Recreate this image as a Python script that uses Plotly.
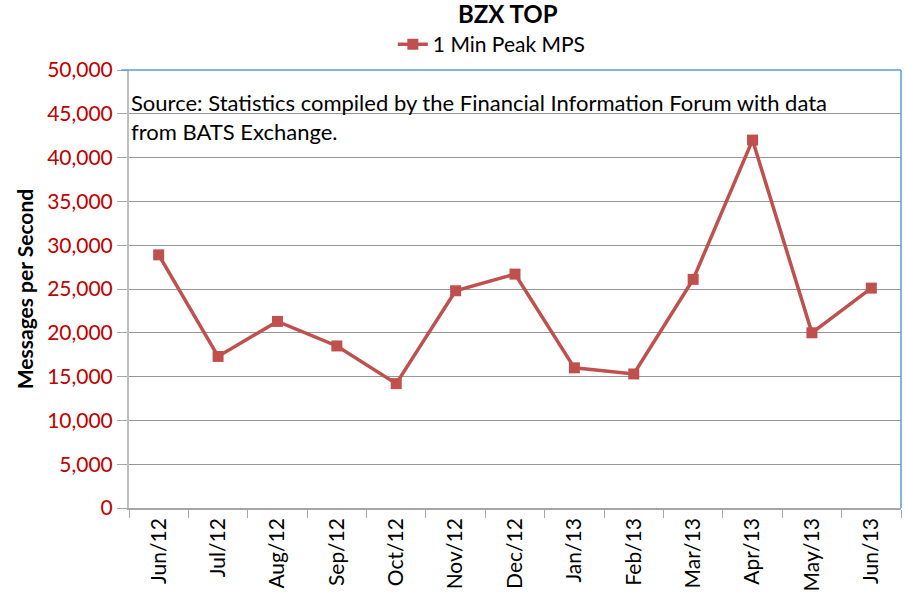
import plotly.graph_objects as go

months = ["Jun/12", "Jul/12", "Aug/12", "Sep/12", "Oct/12", "Nov/12", "Dec/12",
          "Jan/13", "Feb/13", "Mar/13", "Apr/13", "May/13", "Jun/13"]
peak_mps = [28900, 17300, 21300, 18500, 14200, 24800, 26700,
            16000, 15300, 26100, 42000, 20000, 25100]
y_ticks = [0, 5000, 10000, 15000, 20000, 25000, 30000, 35000, 40000, 45000, 50000]

FONT = "Lato"
RED = "#C0504D"

fig = go.Figure()
fig.add_trace(go.Scatter(
    x=months, y=peak_mps, mode="lines+markers", name="1 Min Peak MPS",
    line=dict(color=RED, width=3.5),
    marker=dict(symbol="square", size=11, color=RED),
))

fig.update_layout(
    width=905, height=602,
    margin=dict(l=129, r=4, t=70, b=94, autoexpand=False),
    paper_bgcolor="white", plot_bgcolor="white",
    font=dict(family=FONT, color="black"),
    title=dict(text="<b>BZX TOP</b>", x=0.561, xanchor="center", y=0.976, yanchor="middle",
               font=dict(size=24, family=FONT, color="black")),
    showlegend=True,
    legend=dict(orientation="h", x=0.47, xanchor="center", y=1.058, yanchor="middle",
                font=dict(size=21, family=FONT), bgcolor="rgba(0,0,0,0)"),
    xaxis=dict(
        type="category", range=[-0.5, 12.5],
        tickangle=-90, tickfont=dict(size=21, family=FONT, color="black"),
        ticks="outside", tickson="boundaries", ticklen=8, tickcolor="#A6A6A6",
        showline=True, linecolor="#A6A6A6", linewidth=1.5,
        showgrid=False, automargin=False,
    ),
    yaxis=dict(
        range=[0, 50000], tickvals=y_ticks, tickformat=",d",
        tickfont=dict(size=21, family=FONT, color="#C00000"),
        ticks="outside", ticklen=10, tickcolor="#A6A6A6",
        showline=True, linecolor="#BFBFBF", linewidth=2,
        showgrid=True, gridcolor="#969696", gridwidth=1,
        zeroline=False, automargin=False,
        title=dict(text="<b>Messages per Second</b>", font=dict(size=21, family=FONT, color="black"),
                   standoff=8),
    ),
)

fig.add_annotation(
    xref="paper", yref="paper", x=0.0, y=0.962, xanchor="left", yanchor="top",
    text="Source: Statistics compiled by the Financial Information Forum with data<br>from BATS Exchange.",
    showarrow=False, align="left", xshift=0,
    font=dict(size=22, family=FONT, color="black"),
)

fig.add_shape(type="line", xref="paper", yref="paper", x0=-0.01, x1=1, y0=1, y1=1,
              line=dict(color="#5B9BD5", width=1.5))
fig.add_shape(type="line", xref="paper", yref="paper", x0=1, x1=1, y0=0, y1=1,
              line=dict(color="#5B9BD5", width=1.5))

fig.write_html("out.html", config={"displayModeBar": False},
               post_script="document.body.style.margin='0';document.body.style.overflow='hidden';")
